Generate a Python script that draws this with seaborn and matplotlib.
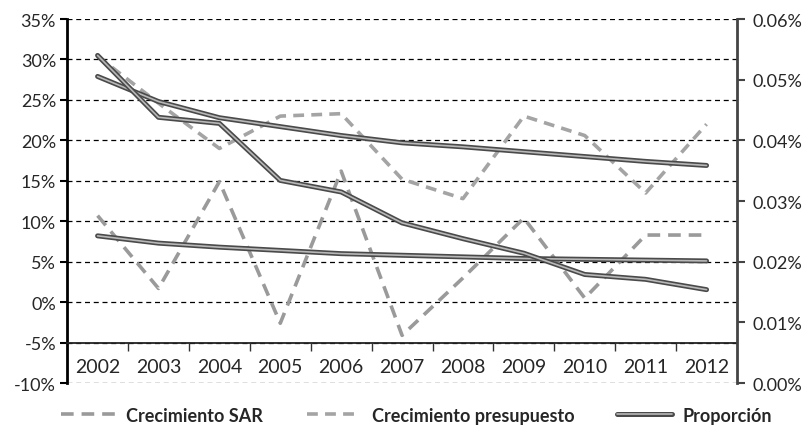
# coding=utf-8
# filename: plot.py

import matplotlib
matplotlib.use('Agg')
import matplotlib.pyplot as plt
import matplotlib.patheffects as pe
import numpy as np
import pandas as pd
import seaborn as sns


years = [2002, 2003, 2004, 2005, 2006, 2007, 2008, 2009, 2010, 2011, 2012]

# growth rates, % (left axis)
crec_sar = [10.7, 1.7, 14.9, -2.6, 16.2, -4.1, 3.0, 10.4, 0.5, 8.3, 8.3]
crec_presupuesto = [30.4, 24.6, 19.0, 23.0, 23.3, 15.2, 12.8, 23.0, 20.6, 13.5, 22.0]

# trend lines, % (left axis)
tend_presupuesto = [27.9, 24.8, 22.8, 21.7, 20.6, 19.7, 19.2, 18.6, 18.0, 17.4, 16.9]
tend_sar = [8.2, 7.3, 6.8, 6.4, 6.0, 5.8, 5.6, 5.4, 5.3, 5.2, 5.1]

# proportion, % (right axis)
proporcion = [0.0540, 0.0438, 0.0428, 0.0334, 0.0315, 0.0264,
              0.0238, 0.0214, 0.0179, 0.0171, 0.0154]

left_ticks = [-10, -5, 0, 5, 10, 15, 20, 25, 30, 35]
right_ticks = [0.00, 0.01, 0.02, 0.03, 0.04, 0.05, 0.06]

font_size = 13

sns.set_style('white')
plt.rcParams['font.family'] = ['Lato', 'DejaVu Sans']

df = pd.DataFrame({'anio': years, 'sar': crec_sar, 'pres': crec_presupuesto,
                   't_pres': tend_presupuesto, 't_sar': tend_sar,
                   'prop': proporcion})

fig, ax = plt.subplots(figsize=(8.09, 4.35), dpi=100)
plt.subplots_adjust(left=0.083, right=0.911, top=0.954, bottom=0.117)

double_line = [pe.Stroke(linewidth=3.6, foreground='#4a4a4a'), pe.Normal()]

sns.lineplot(data=df, x='anio', y='sar', ax=ax, color='#9a9a9a', lw=2.6,
             dashes=False, label='Crecimiento SAR', legend=False)
ax.lines[-1].set_dashes((3.5, 2.2))
sns.lineplot(data=df, x='anio', y='pres', ax=ax, color='#a4a4a4', lw=2.6,
             dashes=False, label='Crecimiento presupuesto', legend=False)
ax.lines[-1].set_dashes((3, 2))

for col in ['t_pres', 't_sar']:
    sns.lineplot(data=df, x='anio', y=col, ax=ax, color='#b8b8b8', lw=1.2,
                 legend=False)
    ax.lines[-1].set_path_effects(double_line)

ax.set_ylim(-10, 35)
ax.set_xlim(2001.5, 2012.5)
ax.set_yticks(left_ticks)
ax.set_yticklabels([f'{v}%' for v in left_ticks], fontsize=font_size)
ax.yaxis.grid(True, color='black', linestyle=(0, (4, 3)), lw=0.9)
ax.set_axisbelow(True)
ax.tick_params(axis='y', direction='out', length=5, width=1.5, color='black',
               left=True, pad=3)

# category axis: ticks between years, labels at the years
ax.set_xticks(np.array(years[:-1]) + 0.5)
ax.set_xticklabels([])
ax.set_xticks(years, minor=True)
ax.set_xticklabels([str(y) for y in years], minor=True)
ax.tick_params(axis='x', which='major', direction='out', length=6, width=1,
               color='#333333', bottom=True)
ax.tick_params(axis='x', which='minor', length=0, pad=11,
               labelsize=font_size + 1)
ax.set_xlabel('')
ax.set_ylabel('')

ax.spines['bottom'].set_position(('data', -5))
ax.spines['bottom'].set_color('#222222')
ax.spines['bottom'].set_linewidth(1.3)
ax.spines['left'].set_color('black')
ax.spines['left'].set_linewidth(2)
ax.spines['top'].set_visible(False)
ax.spines['right'].set_visible(False)

ax2 = ax.twinx()
sns.lineplot(data=df, x='anio', y='prop', ax=ax2, color='#b8b8b8', lw=1.2,
             label='Proporción', legend=False)
ax2.lines[-1].set_path_effects(double_line)
ax2.set_ylim(0, 0.06)
ax2.set_yticks(right_ticks)
ax2.set_yticklabels([f'{v:.2f}%' for v in right_ticks], fontsize=font_size)
ax2.tick_params(axis='y', direction='out', length=6, width=1.5,
                color='#444444', right=True, pad=5)
ax2.set_ylabel('')
for s in ['top', 'bottom', 'left']:
    ax2.spines[s].set_visible(False)
ax2.spines['right'].set_color('#444444')
ax2.spines['right'].set_linewidth(2)

handles = [ax.lines[0], ax.lines[1], ax2.lines[0]]
labels = ['Crecimiento SAR', 'Crecimiento presupuesto', 'Proporción']
fig.legend(handles, labels, loc='center', bbox_to_anchor=(0.515, 0.043),
           ncol=3, frameon=False, handlelength=3.0, columnspacing=2.4,
           handletextpad=0.6, prop={'weight': 'bold', 'size': font_size})

plt.savefig('out.png', dpi=100)
